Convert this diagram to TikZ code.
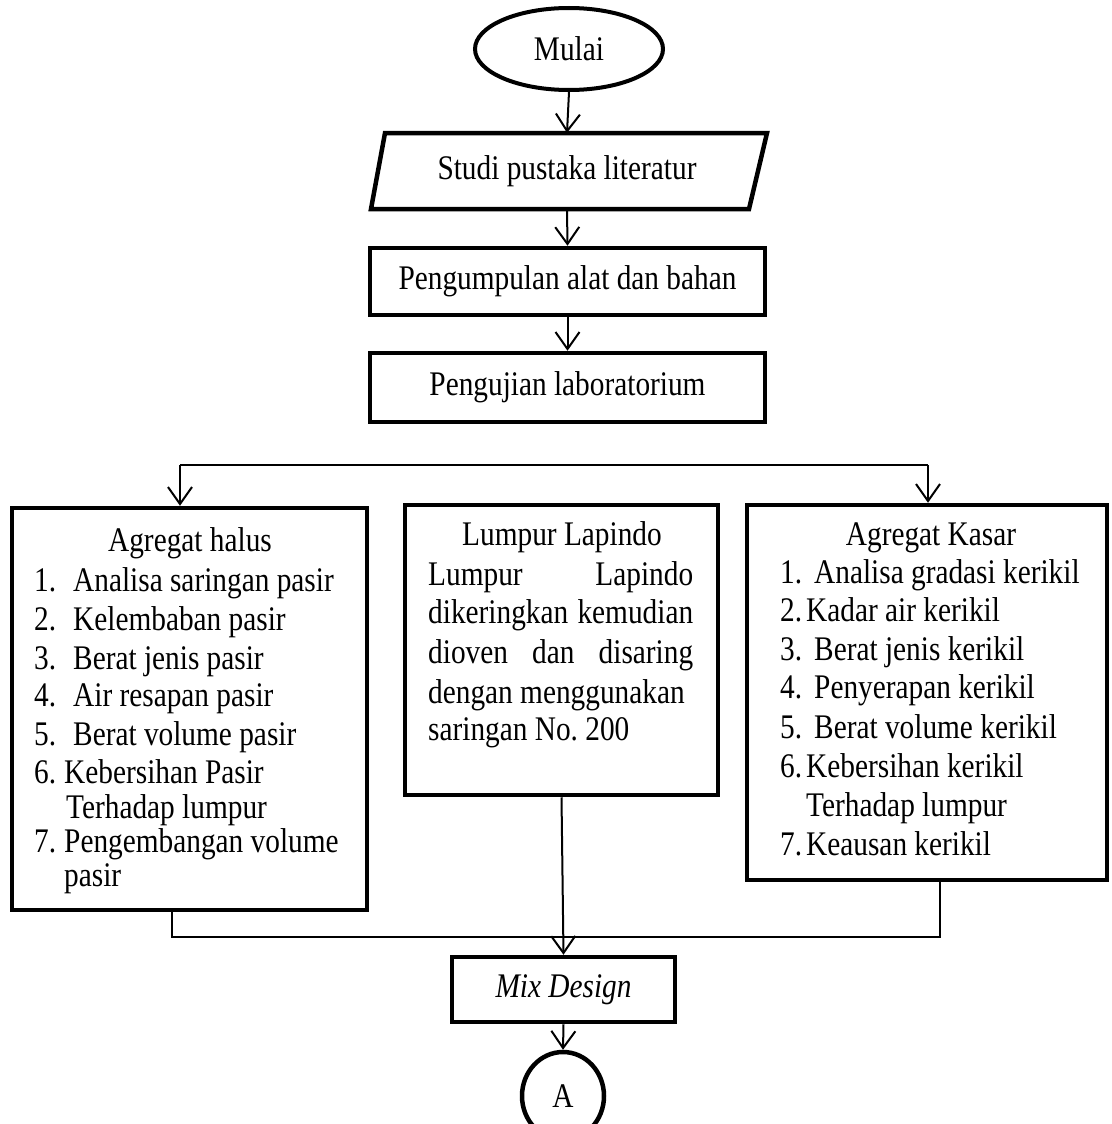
\documentclass[tikz,border=0pt]{standalone}
\usepackage{fontspec}
\setmainfont{Liberation Serif}[FakeStretch=0.85]
\usetikzlibrary{arrows.meta,shapes.geometric}
\begin{document}
\begin{tikzpicture}[x=1pt,y=-1pt,
  fnt/.style={font=\fontsize{34.5}{40}\selectfont},
  box/.style={draw, line width=4.5pt, rectangle, inner sep=0pt, fnt},
  conn/.style={line width=2pt},
  arr/.style={conn, -{Straight Barb[length=17pt,width=24pt]}},
  txt/.style={inner sep=0pt, text height=22pt, text depth=6pt, anchor=west, fnt},
  ctxt/.style={txt, anchor=center}]
\useasboundingbox (0,0) rectangle (1111,1124);

% top chain
\node[draw, ellipse, line width=4pt, minimum width=188pt, minimum height=82pt, inner sep=0pt, fnt] (mulai) at (569,49) {Mulai};
\draw[line width=4.5pt, line join=miter] (385,133) -- (767,133) -- (749,209) -- (371,209) -- cycle;
\node[minimum width=360pt, minimum height=76pt, inner sep=0pt, fnt] (studi) at (567,171) {Studi pustaka literatur};
\node[box, minimum width=395pt, minimum height=67pt] (alat) at (567.5,281.5) {Pengumpulan alat dan bahan};
\node[box, minimum width=395pt, minimum height=69pt] (lab) at (567.5,387.5) {Pengujian laboratorium};

\draw[arr] (mulai.south) -- (studi.north);
\draw[arr] (studi.south) -- (alat.north);
\draw[arr] (alat.south) -- (lab.north);

% three boxes
\node[box, minimum width=355pt, minimum height=402pt] (halus) at (189.5,709) {};
\node[box, minimum width=313pt, minimum height=290pt] (lumpur) at (561.5,650) {};
\node[box, minimum width=360pt, minimum height=375pt] (kasar) at (927,692.5) {};

\coordinate (hl) at (180,465);
\coordinate (hr) at (928,465);
\draw[conn] (hl) -- (hr);
\draw[arr] (hl) -- (hl |- halus.north);
\draw[arr] (hr) -- (hr |- kasar.north);

% left box text
\node[ctxt] (h0) at (190,543) {Agregat halus};
\node[txt] (h1n) at (34,583) {1.};  \node[txt] (h1) at (73,583) {Analisa saringan pasir};
\node[txt] (h2n) at (34,622) {2.};  \node[txt] (h2) at (73,622) {Kelembaban pasir};
\node[txt] (h3n) at (34,661) {3.};  \node[txt] (h3) at (73,661) {Berat jenis pasir};
\node[txt] (h4n) at (34,698) {4.};  \node[txt] (h4) at (73,698) {Air resapan pasir};
\node[txt] (h5n) at (34,737) {5.};  \node[txt] (h5) at (73,737) {Berat volume pasir};
\node[txt] (h6n) at (34,775) {6.};  \node[txt] (h6) at (64,775) {Kebersihan Pasir};
\node[txt] (h6b) at (66,810) {Terhadap lumpur};
\node[txt] (h7n) at (34,844) {7.};  \node[txt] (h7) at (64,844) {Pengembangan volume};
\node[txt] (h7b) at (64,878) {pasir};

% middle box text
\node[ctxt] (l0) at (562,537) {Lumpur Lapindo};
\node[txt] (l1) at (428,577) {\makebox[265pt][l]{Lumpur\hfill Lapindo}};
\node[txt] (l2) at (428,615) {\makebox[265pt][l]{dikeringkan\hfill kemudian}};
\node[txt] (l3) at (428,655) {\makebox[265pt][l]{dioven\hfill dan\hfill disaring}};
\node[txt] (l4) at (428,695) {dengan menggunakan};
\node[txt] (l5) at (428,732) {saringan No.\ 200};

% right box text
\node[ctxt] (k0) at (931,537) {Agregat Kasar};
\node[txt] (k1n) at (780,575) {1.};  \node[txt] (k1) at (814,575) {Analisa gradasi kerikil};
\node[txt] (k2n) at (780,613) {2.};  \node[txt] (k2) at (806,613) {Kadar air kerikil};
\node[txt] (k3n) at (780,652) {3.};  \node[txt] (k3) at (814,652) {Berat jenis kerikil};
\node[txt] (k4n) at (780,690) {4.};  \node[txt] (k4) at (814,690) {Penyerapan kerikil};
\node[txt] (k5n) at (780,730) {5.};  \node[txt] (k5) at (814,730) {Berat volume kerikil};
\node[txt] (k6n) at (780,769) {6.};  \node[txt] (k6) at (806,769) {Kebersihan kerikil};
\node[txt] (k6b) at (806,808) {Terhadap lumpur};
\node[txt] (k7n) at (780,847) {7.};  \node[txt] (k7) at (806,847) {Keausan kerikil};

% bottom
\node[box, minimum width=223pt, minimum height=65pt] (mix) at (563.5,989.5) {\itshape Mix Design};
\node[draw, ellipse, line width=4.5pt, minimum width=82pt, minimum height=88pt, inner sep=0pt, fnt] (A) at (563,1096) {A};

\coordinate (bl) at (172,937);
\coordinate (br) at (940,937);
\draw[conn] (bl |- halus.south) -- (bl) -- (br) -- (br |- kasar.south);
\draw[arr] (lumpur.south) -- (mix.north);
\draw[arr] (mix.south) -- (A.north);
\end{tikzpicture}
\end{document}
